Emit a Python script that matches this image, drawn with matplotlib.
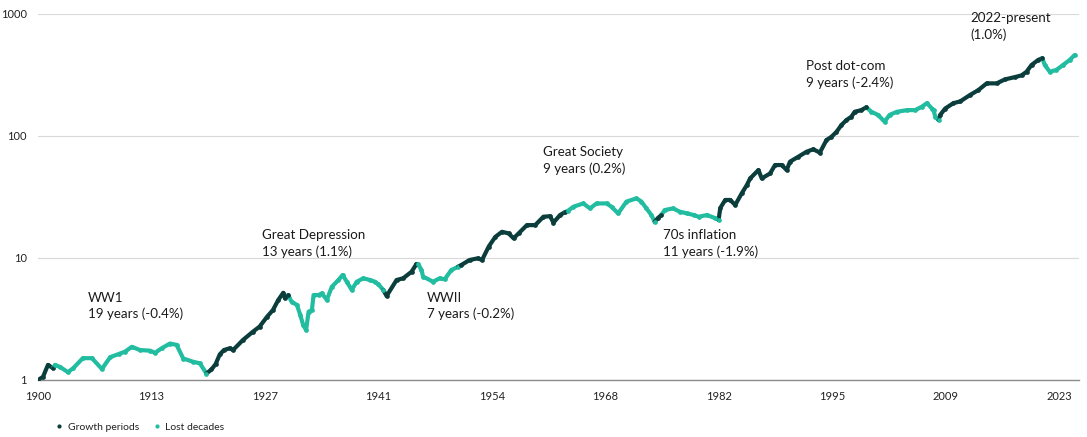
import matplotlib
matplotlib.use("Agg")
import matplotlib.pyplot as plt
from matplotlib.lines import Line2D

plt.rcParams['font.family'] = ['Lato', 'DejaVu Sans']

# index level (log scale), G = growth period, L = lost decade
years = [
    1900.0, 1900.6, 1901.2, 1901.8,
    1902.05, 1902.65, 1903.6, 1904.25, 1905.4, 1906.5, 1907.7, 1908.7, 1909.7, 1910.5,
    1911.3, 1912.3, 1913.5, 1914.1, 1914.9, 1915.9, 1916.7, 1917.5, 1918.7, 1919.5, 1920.3,
    1920.9, 1921.4, 1921.9, 1922.4, 1923.1, 1923.5, 1924.7, 1925.9, 1926.7, 1927.6, 1928.3,
    1928.95, 1929.55, 1929.75, 1930.15,
    1930.55, 1931.2, 1931.6, 1931.95, 1932.3, 1932.6, 1933.0, 1933.2, 1933.8, 1934.2, 1934.8,
    1935.4, 1936.2, 1936.7, 1937.2, 1937.8, 1938.4, 1939.2, 1940.0, 1940.6, 1941.0, 1941.6,
    1942.0, 1943.2, 1944.0, 1945.0, 1945.6,
    1945.8, 1946.2, 1946.4, 1947.6, 1948.4, 1949.0, 1949.8, 1950.6,
    1951.0, 1952.0, 1953.0, 1953.5, 1954.3, 1955.1, 1955.9, 1956.7, 1957.3, 1957.9, 1958.9,
    1959.9, 1960.9, 1961.7, 1962.1, 1962.9, 1963.5,
    1963.9, 1964.5, 1965.7, 1966.5, 1967.3, 1968.5, 1969.1, 1969.9, 1970.9, 1972.1, 1972.7,
    1973.3, 1973.9, 1974.3,
    1974.7, 1975.1,
    1975.5, 1976.5, 1977.3, 1978.2, 1979.0, 1979.6, 1980.6, 1981.6, 1982.0,
    1982.2, 1982.8, 1983.4, 1984.0, 1984.8, 1985.4, 1985.8, 1986.8, 1987.2, 1988.2, 1988.8,
    1989.6, 1990.2, 1990.6, 1991.6, 1992.6, 1993.4, 1994.2, 1995.0, 1995.6, 1996.2, 1996.8,
    1997.4, 1998.0, 1998.4, 1999.2, 1999.8,
    2000.4, 2001.2, 2002.0, 2002.6, 2003.5, 2004.7, 2005.7, 2006.5, 2007.1, 2007.7, 2007.9,
    2008.1, 2008.5,
    2008.7, 2009.3, 2010.3, 2011.1, 2012.3, 2013.3, 2014.3, 2015.5, 2016.5, 2017.7, 2018.5,
    2019.1, 2019.7, 2020.5, 2021.0,
    2021.3, 2021.9, 2022.7, 2023.5, 2024.3, 2024.9,
]
index_level = [
    1.00, 1.06, 1.33, 1.25,
    1.33, 1.28, 1.16, 1.25, 1.51, 1.51, 1.23, 1.54, 1.63, 1.71,
    1.87, 1.76, 1.74, 1.67, 1.82, 1.99, 1.94, 1.50, 1.41, 1.37, 1.13,
    1.22, 1.35, 1.62, 1.76, 1.82, 1.76, 2.13, 2.49, 2.74, 3.30, 3.74,
    4.53, 5.19, 4.68, 4.97,
    4.38, 4.12, 3.41, 2.82, 2.57, 3.63, 3.74, 4.97, 4.97, 5.13, 4.53,
    5.81, 6.60, 7.26, 6.39, 5.47, 6.39, 6.82, 6.60, 6.39, 6.10, 5.47,
    4.88, 6.60, 6.82, 7.71, 8.93,
    8.93, 7.97, 7.04, 6.39, 6.82, 6.69, 7.97, 8.47,
    8.76, 9.63, 9.94, 9.63, 12.4, 14.9, 16.4, 15.9, 14.5, 15.9, 18.6,
    18.6, 21.8, 22.0, 19.5, 22.5, 23.8,
    24.5, 26.3, 28.0, 25.5, 28.0, 28.0, 26.3, 23.2, 29.0, 30.8, 29.0,
    25.5, 22.5, 19.8,
    21.3, 22.5,
    24.7, 25.5, 24.0, 23.2, 22.5, 21.8, 22.5, 21.2, 20.5,
    25.7, 29.9, 29.9, 27.2, 34.0, 39.6, 44.9, 52.6, 44.9, 49.3, 57.8,
    57.8, 52.6, 61.6, 67.6, 74.3, 77.8, 73.1, 92.7, 98.5, 108, 123,
    135, 144, 158, 163, 172,
    158, 149, 131, 149, 158, 163, 163, 174, 186, 168, 163,
    144, 135,
    149, 168, 186, 192, 217, 238, 270, 270, 291, 304, 314,
    336, 382, 420, 434,
    382, 336, 348, 382, 420, 461,
]
phase = (['G'] * 4 + ['L'] * 21 + ['G'] * 15 + ['L'] * 22 + ['G'] * 5 + ['L'] * 8
         + ['G'] * 17 + ['L'] * 14 + ['G'] * 2 + ['L'] * 9 + ['G'] * 27 + ['L'] * 13
         + ['G'] * 15 + ['L'] * 6)

tick_years = [1900 + k * 164 / 12 for k in range(10)]
tick_labels = ['1900', '1913', '1927', '1941', '1954', '1968', '1982', '1995', '2009', '2023']

notes = ['WW1\n19 years (-0.4%)', 'Great Depression\n13 years (1.1%)', 'WWII\n7 years (-0.2%)',
         'Great Society\n9 years (0.2%)', '70s inflation\n11 years (-1.9%)',
         'Post dot-com\n9 years (-2.4%)', '2022-present\n(1.0%)']
note_pos = [(1906.0, 5.3), (1927.0, 17.3), (1946.9, 5.3), (1960.8, 83),
            (1975.3, 17.3), (1992.5, 418), (2012.3, 1036)]

DARK = '#0a3d3b'
TEAL = '#22bda0'
colors = {'G': DARK, 'L': TEAL}

fig = plt.figure(figsize=(10.87, 4.37), dpi=100)
ax = fig.add_axes([38 / 1087, 1 - 380 / 437, (1079 - 38) / 1087, (380 - 14) / 437])

# split into runs of one phase, each run starts at the previous run's last point
start = 0
for i in range(1, len(years) + 1):
    if i == len(years) or phase[i] != phase[start]:
        a = max(start - 1, 0)
        c = colors[phase[start]]
        ax.plot(years[a:i], index_level[a:i], color=c, lw=3.0, solid_capstyle='round', zorder=2)
        ax.plot(years[start:i], index_level[start:i], 'o', color=c, ms=3.4, mew=0, zorder=3)
        start = i

ax.set_yscale('log')
ax.set_ylim(1, 1000)
ax.set_xlim(1900, 1900 + (1079 - 38) / 8.3)
ax.set_yticks([1, 10, 100, 1000])
ax.set_yticklabels(['1', '10', '100', '1000'])
ax.minorticks_off()
ax.set_xticks(tick_years)
ax.set_xticklabels(tick_labels)
ax.tick_params(length=0, labelsize=8, colors='#222222', pad=8)
ax.tick_params(axis='y', pad=8)
ax.grid(axis='y', color='#d9d9d9', lw=0.8)
ax.set_axisbelow(True)
for s in ['left', 'right', 'top']:
    ax.spines[s].set_visible(False)
ax.spines['bottom'].set_color('#8c8c8c')
ax.spines['bottom'].set_linewidth(1.0)

for txt, (x, y) in zip(notes, note_pos):
    ax.text(x, y, txt, fontsize=9.6, va='top', ha='left', color='#1a1a1a', linespacing=1.4)

handles = [Line2D([], [], ls='', marker='o', ms=3, color=DARK, mew=0),
           Line2D([], [], ls='', marker='o', ms=3, color=TEAL, mew=0)]
fig.legend(handles, ['Growth periods', 'Lost decades'], loc='lower left',
           bbox_to_anchor=(0.043, -0.01), ncol=2, frameon=False, fontsize=7.5,
           handlelength=0.6, handletextpad=0.5, columnspacing=1.4, labelcolor='#222222')

fig.savefig('out.png', dpi=100)
